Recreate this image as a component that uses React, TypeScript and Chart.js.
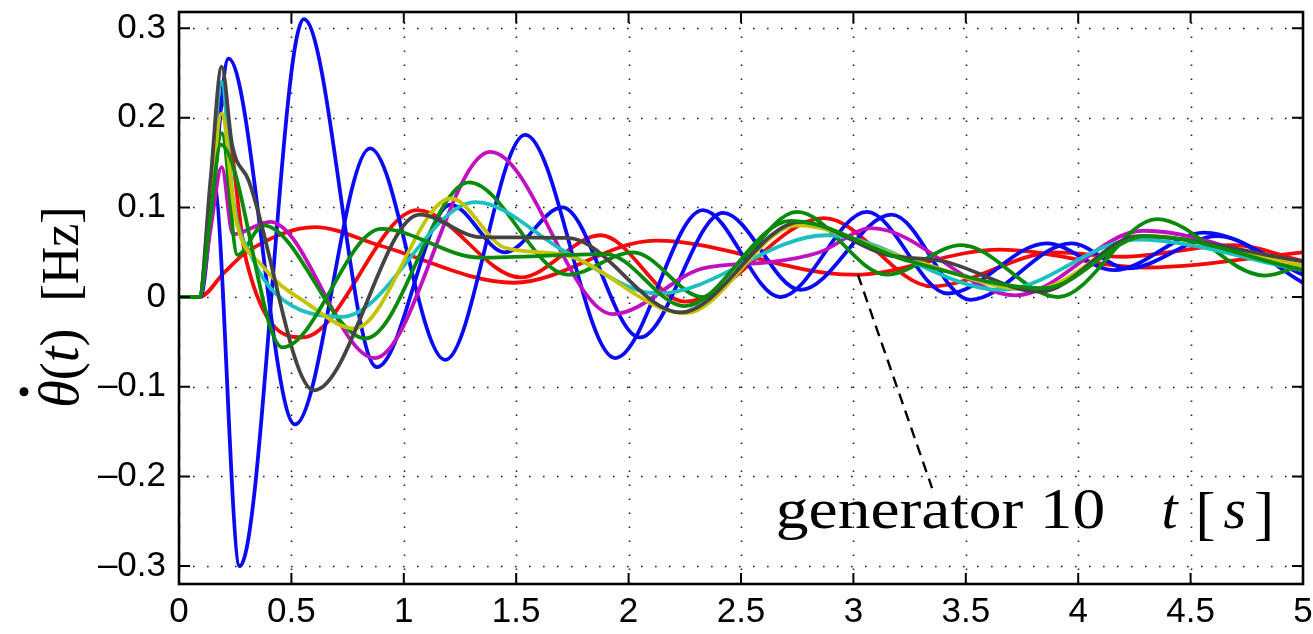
import React, { useEffect, useRef } from 'react';
import { Chart, registerables } from 'chart.js';

Chart.register(...registerables);

// ---- axes ----
const X_MIN = 0;
const X_MAX = 5;
const Y_MIN = -0.32;
const Y_MAX = 0.318;
const X_TICK_VALUES = [0, 0.5, 1, 1.5, 2, 2.5, 3, 3.5, 4, 4.5, 5];
const X_TICK_LABELS = ['0', '0.5', '1', '1.5', '2', '2.5', '3', '3.5', '4', '4.5', '5'];
const Y_TICK_VALUES = [-0.3, -0.2, -0.1, 0, 0.1, 0.2, 0.3];
const Y_TICK_LABELS = ['\u20130.3', '\u20130.2', '\u20130.1', '0', '0.1', '0.2', '0.3'];

// ---- series (time in s, frequency deviation in Hz) ----
const T_BLUE_A = [0, 0.09, 0.125, 0.155, 0.27, 0.555, 0.88, 1.207, 1.45, 1.705, 2.05, 2.42, 2.765, 3.17, 3.52, 3.97, 4.22, 4.62, 5.0];
const V_BLUE_A = [0, 0, 0.06, 0.127, -0.3, 0.31, -0.078, 0.103, 0.05, 0.1, -0.045, 0.094, 0.008, 0.092, -0.003, 0.06, 0.032, 0.068, 0.016];

const T_BLUE_B = [0, 0.095, 0.15, 0.22, 0.516, 0.85, 1.184, 1.54, 1.94, 2.33, 2.675, 3.06, 3.42, 3.86, 4.16, 4.56, 5.0];
const V_BLUE_B = [0, 0, 0.11, 0.266, -0.142, 0.166, -0.07, 0.181, -0.068, 0.097, 0.0, 0.095, 0.004, 0.06, 0.03, 0.072, 0.025];

const T_MAGENTA = [0, 0.09, 0.14, 0.19, 0.24, 0.405, 0.87, 1.385, 1.93, 2.33, 2.63, 2.85, 3.08, 3.72, 4.29, 5.0];
const V_MAGENTA = [0, 0, 0.075, 0.145, 0.07, 0.084, -0.068, 0.162, -0.019, 0.032, 0.039, 0.05, 0.077, 0.002, 0.074, 0.03];

const T_CYAN = [0, 0.09, 0.14, 0.19, 0.24, 0.33, 0.43, 0.725, 1.32, 1.73, 2.13, 2.88, 3.66, 4.26, 5.0];
const V_CYAN = [0, 0, 0.12, 0.24, 0.11, 0.042, 0.004, -0.022, 0.106, 0.049, 0.004, 0.069, 0.008, 0.064, 0.03];

const T_YELLOW = [0, 0.09, 0.14, 0.19, 0.25, 0.37, 0.57, 0.78, 1.21, 1.45, 1.7, 2.25, 2.75, 3.25, 3.8, 4.3, 5.0];
const V_YELLOW = [0, 0, 0.105, 0.205, 0.09, 0.035, -0.007, -0.035, 0.11, 0.055, 0.048, -0.018, 0.08, 0.042, 0.008, 0.068, 0.035];

const T_GRAY = [0, 0.09, 0.14, 0.19, 0.236, 0.31, 0.6, 1.07, 1.34, 1.73, 2.23, 2.765, 3.15, 3.4, 3.83, 4.27, 5.0];
const V_GRAY = [0, 0, 0.13, 0.257, 0.17, 0.13, -0.104, 0.092, 0.067, 0.066, -0.017, 0.084, 0.047, 0.04, 0.006, 0.068, 0.04];

const T_GREEN_A = [0, 0.09, 0.14, 0.19, 0.26, 0.375, 0.83, 1.29, 1.73, 2.02, 2.33, 2.75, 3.15, 3.48, 3.91, 4.35, 4.83, 5.0];
const V_GREEN_A = [0, 0, 0.095, 0.183, 0.047, 0.08, -0.046, 0.128, 0.025, 0.05, 0.0, 0.095, 0.025, 0.058, 0.0, 0.087, 0.024, 0.036];

const T_GREEN_B = [0, 0.09, 0.14, 0.185, 0.46, 0.9, 1.34, 1.9, 2.25, 2.72, 3.25, 3.85, 4.3, 5.0];
const V_GREEN_B = [0, 0, 0.09, 0.17, -0.056, 0.076, 0.044, 0.048, -0.01, 0.085, 0.04, 0.01, 0.068, 0.03];

const T_RED_B = [0, 0.09, 0.14, 0.19, 0.3, 0.55, 1.06, 1.52, 1.875, 2.25, 2.87, 3.35, 3.9, 4.2, 4.69, 5.0];
const V_RED_B = [0, 0, 0.11, 0.22, 0.04, -0.045, 0.097, 0.022, 0.069, -0.005, 0.088, 0.012, 0.05, 0.045, 0.058, 0.04];

// generator 10
const T_RED_A = [0, 0.09, 0.2, 0.3, 0.605, 0.9, 1.49, 2.12, 3.0, 3.65, 4.3, 5.0];
const V_RED_A = [0, 0, 0.027, 0.05, 0.078, 0.057, 0.016, 0.063, 0.025, 0.053, 0.033, 0.05];

// annotation anchor points (data coordinates)
const ARROW_FROM = { x: 3.02, y: 0.025 };
const ARROW_TO = { x: 3.35, y: -0.213 };
const GEN_LABEL = { x: 2.655, x2: 4.12, y: -0.2576, text: 'generator 10' };
const T_LABEL = { x: 4.37, y: -0.2576 };

const SERIES = [
  { name: 'green B', t: T_GREEN_B, v: V_GREEN_B, color: '#0a8a0a' },
  { name: 'gray', t: T_GRAY, v: V_GRAY, color: '#444444' },
  { name: 'yellow', t: T_YELLOW, v: V_YELLOW, color: '#c4c400' },
  { name: 'cyan', t: T_CYAN, v: V_CYAN, color: '#1cc0c0' },
  { name: 'green A', t: T_GREEN_A, v: V_GREEN_A, color: '#0a8a0a' },
  { name: 'magenta', t: T_MAGENTA, v: V_MAGENTA, color: '#c010c0' },
  { name: 'blue A', t: T_BLUE_A, v: V_BLUE_A, color: '#0a0af5' },
  { name: 'blue B', t: T_BLUE_B, v: V_BLUE_B, color: '#0a0af5' },
  { name: 'red B', t: T_RED_B, v: V_RED_B, color: '#f50a0a' },
  { name: 'generator 10', t: T_RED_A, v: V_RED_A, color: '#f50a0a' },
];

const SERIF = '"Liberation Serif", "Times New Roman", serif';
const TICK_FONT = '"Liberation Sans Narrow", "Liberation Sans", Arial, sans-serif';

const decorPlugin = {
  id: 'decor',
  beforeDatasetsDraw(chart: any) {
    const { ctx, chartArea: a } = chart;
    const xs = chart.scales.x;
    const ys = chart.scales.y;
    ctx.save();
    ctx.beginPath();
    ctx.rect(a.left, a.top, a.right - a.left, a.bottom - a.top);
    ctx.clip();
    ctx.strokeStyle = '#222222';
    ctx.lineWidth = 1.6;
    ctx.setLineDash([1.6, 12.4]);
    X_TICK_VALUES.forEach((v) => {
      const px = Math.round(xs.getPixelForValue(v)) + 0.5;
      ctx.beginPath();
      ctx.moveTo(px, a.bottom);
      ctx.lineTo(px, a.top);
      ctx.stroke();
    });
    Y_TICK_VALUES.forEach((v) => {
      const py = Math.round(ys.getPixelForValue(v)) + 0.5;
      ctx.beginPath();
      ctx.moveTo(a.left, py);
      ctx.lineTo(a.right, py);
      ctx.stroke();
    });
    ctx.restore();
  },
  afterDatasetsDraw(chart: any) {
    const { ctx, chartArea: a } = chart;
    const xs = chart.scales.x;
    const ys = chart.scales.y;
    ctx.save();
    // inward ticks
    ctx.strokeStyle = '#000';
    ctx.lineWidth = 2;
    const TL = 11;
    X_TICK_VALUES.forEach((v) => {
      const px = xs.getPixelForValue(v);
      ctx.beginPath();
      ctx.moveTo(px, a.bottom);
      ctx.lineTo(px, a.bottom - TL);
      ctx.moveTo(px, a.top);
      ctx.lineTo(px, a.top + TL);
      ctx.stroke();
    });
    Y_TICK_VALUES.forEach((v) => {
      const py = ys.getPixelForValue(v);
      ctx.beginPath();
      ctx.moveTo(a.left, py);
      ctx.lineTo(a.left + TL, py);
      ctx.moveTo(a.right, py);
      ctx.lineTo(a.right - TL, py);
      ctx.stroke();
    });
    // frame
    ctx.lineWidth = 2.6;
    ctx.strokeRect(a.left, a.top, a.right - a.left, a.bottom - a.top);

    // dashed leader line
    ctx.lineWidth = 2.4;
    ctx.setLineDash([11, 7]);
    ctx.beginPath();
    ctx.moveTo(xs.getPixelForValue(ARROW_FROM.x), ys.getPixelForValue(ARROW_FROM.y));
    ctx.lineTo(xs.getPixelForValue(ARROW_TO.x), ys.getPixelForValue(ARROW_TO.y));
    ctx.stroke();
    ctx.setLineDash([]);

    // "generator 10" label, stretched to the reference width (Computer Modern is wider than Times)
    ctx.fillStyle = '#000';
    ctx.textBaseline = 'alphabetic';
    ctx.textAlign = 'left';
    ctx.font = `56px ${SERIF}`;
    const gx = xs.getPixelForValue(GEN_LABEL.x);
    const gx2 = xs.getPixelForValue(GEN_LABEL.x2);
    const gy = ys.getPixelForValue(GEN_LABEL.y);
    const gw = ctx.measureText(GEN_LABEL.text).width;
    ctx.save();
    ctx.translate(gx, gy);
    ctx.scale((gx2 - gx) / gw, 1);
    ctx.fillText(GEN_LABEL.text, 0, 0);
    ctx.restore();

    // "t [s]"
    const tx = xs.getPixelForValue(T_LABEL.x);
    const ty = ys.getPixelForValue(T_LABEL.y);
    ctx.font = `italic 58px ${SERIF}`;
    ctx.fillText('t', tx, ty);
    const tw = ctx.measureText('t').width;
    ctx.font = `60px ${SERIF}`;
    const bx = tx + tw + 18;
    ctx.fillText('[', bx, ty + 5);
    const bw = ctx.measureText('[').width;
    ctx.font = `italic 58px ${SERIF}`;
    ctx.fillText('s', bx + bw + 8, ty);
    const sw = ctx.measureText('s').width;
    ctx.font = `60px ${SERIF}`;
    ctx.fillText(']', bx + bw + 8 + sw + 8, ty + 5);
    ctx.restore();
  },
  afterDraw(chart: any) {
    const { ctx, chartArea: a } = chart;
    // rotated y-axis title: θ̇(t) [Hz]
    const parts = [
      { s: '\u03B8', f: `italic 56px ${SERIF}` },
      { s: '(', f: `54px ${SERIF}` },
      { s: 't', f: `italic 56px ${SERIF}` },
      { s: ')', f: `54px ${SERIF}` },
      { s: '  ', f: `54px ${SERIF}` },
      { s: '[Hz]', f: `52px ${SERIF}` },
    ];
    ctx.save();
    let total = 0;
    const widths = parts.map((p) => {
      ctx.font = p.f;
      const w = ctx.measureText(p.s).width;
      total += w;
      return w;
    });
    const cy = (a.top + a.bottom) / 2 + 9;
    ctx.translate(78, cy);
    ctx.rotate(-Math.PI / 2);
    ctx.fillStyle = '#000';
    ctx.textBaseline = 'alphabetic';
    ctx.textAlign = 'left';
    let x = -total / 2;
    parts.forEach((p, i) => {
      ctx.font = p.f;
      ctx.fillText(p.s, x, 0);
      if (i === 0) {
        ctx.beginPath();
        ctx.arc(x + widths[0] * 0.58, -54, 4.5, 0, Math.PI * 2);
        ctx.fill();
      }
      x += widths[i];
    });
    ctx.restore();
  },
};

export default function App() {
  const ref = useRef<HTMLCanvasElement | null>(null);
  useEffect(() => {
    if (!ref.current) return;
    const chart = new Chart(ref.current, {
      type: 'line',
      data: {
        datasets: SERIES.map((s) => ({
          label: s.name,
          data: s.t.map((t, i) => ({ x: t, y: s.v[i] })),
          borderColor: s.color,
          backgroundColor: s.color,
          borderWidth: 3.8,
          pointRadius: 0,
          fill: false,
          cubicInterpolationMode: 'monotone' as const,
        })),
      },
      options: {
        animation: false,
        responsive: false,
        devicePixelRatio: 1,
        parsing: false,
        events: [],
        layout: { padding: { left: 0, right: 10, top: 12, bottom: 0 } },
        plugins: { legend: { display: false }, tooltip: { enabled: false }, title: { display: false } },
        scales: {
          x: {
            type: 'linear',
            min: X_MIN,
            max: X_MAX,
            grid: { display: false, drawTicks: false },
            border: { display: false },
            ticks: {
              stepSize: 0.5,
              autoSkip: false,
              maxRotation: 0,
              padding: 7,
              color: '#000',
              font: { family: TICK_FONT, size: 35 },
              callback: (v: any) => {
                const i = X_TICK_VALUES.findIndex((t) => Math.abs(t - Number(v)) < 1e-6);
                return i >= 0 ? X_TICK_LABELS[i] : '';
              },
            },
            afterFit: (s: any) => {
              s.height = 50;
              s.paddingLeft = 0;
              s.paddingRight = 0;
            },
          },
          y: {
            type: 'linear',
            min: Y_MIN,
            max: Y_MAX,
            grid: { display: false, drawTicks: false },
            border: { display: false },
            ticks: {
              stepSize: 0.1,
              includeBounds: false,
              padding: 13,
              color: '#000',
              font: { family: TICK_FONT, size: 35 },
              callback: (v: any) => {
                const i = Y_TICK_VALUES.findIndex((t) => Math.abs(t - Number(v)) < 1e-6);
                return i >= 0 ? Y_TICK_LABELS[i] : '';
              },
            },
            afterFit: (s: any) => {
              s.width = 179;
              s.paddingTop = 0;
              s.paddingBottom = 0;
            },
          },
        },
      },
      plugins: [decorPlugin],
    } as any);
    return () => chart.destroy();
  }, []);
  return (
    <div style={{ position: 'absolute', left: 0, top: 0, width: 1313, height: 634, background: '#fff' }}>
      <canvas ref={ref} width={1313} height={634} />
    </div>
  );
}
